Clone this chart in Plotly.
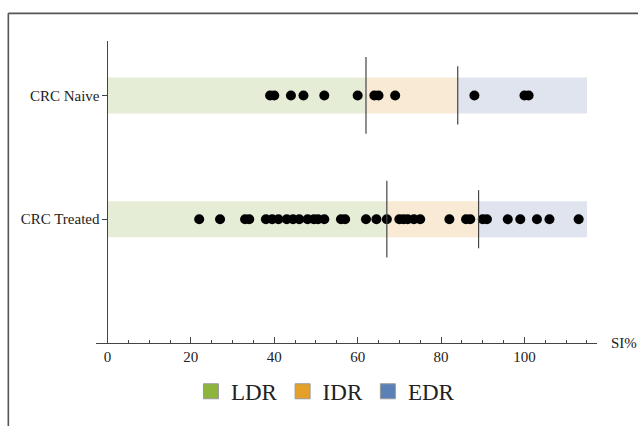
import plotly.graph_objects as go

# ---- data ----
groups = ["CRC Treated", "CRC Naive"]
group_pos = [1, 2]
naive_values = [39, 40, 44, 47, 52, 60, 64, 65, 69, 88, 100, 101]
treated_values = [22, 27, 33, 34, 38, 39.5, 41, 43, 44.5, 46, 48, 49.5, 50.5, 52,
                  56, 57, 62, 64.5, 67, 70, 71, 72, 73.5, 75, 82, 86, 87, 90, 91,
                  96, 99, 103, 106, 113]
naive_thresholds = [62, 84]
treated_thresholds = [67, 89]
band_end = 115
x_ticks = [0, 20, 40, 60, 80, 100]
region_names = ["LDR", "IDR", "EDR"]
region_colors = ["#8db43c", "#e5a02a", "#5b80b8"]
band_colors = ["#e6edd6", "#f8ead5", "#dfe4ef"]

SERIF = "Liberation Serif, Times New Roman, serif"

fig = go.Figure()

shapes = []
band_half = 0.145
for pos, thr in zip(group_pos, [treated_thresholds, naive_thresholds]):
    edges = [0, thr[0], thr[1], band_end]
    for i in range(3):
        shapes.append(dict(type="rect", xref="x", yref="y",
                           x0=edges[i], x1=edges[i + 1],
                           y0=pos - band_half, y1=pos + band_half,
                           fillcolor=band_colors[i], line=dict(width=0),
                           layer="below"))
    # threshold lines
    for t, h in zip(thr, [0.31, 0.235]):
        shapes.append(dict(type="line", xref="x", yref="y",
                           x0=t, x1=t, y0=pos - h, y1=pos + h,
                           line=dict(color="#444444", width=1.2),
                           layer="above"))

# decorative frame (top and left)
shapes.append(dict(type="line", xref="paper", yref="paper",
                   x0=-0.175, x1=1.1, y0=1.0915, y1=1.0915,
                   line=dict(color="#555555", width=1.6)))
shapes.append(dict(type="line", xref="paper", yref="paper",
                   x0=-0.175, x1=-0.175, y0=1.0915, y1=-0.3,
                   line=dict(color="#555555", width=1.6)))

fig.add_trace(go.Scatter(x=treated_values, y=[group_pos[0]] * len(treated_values),
                         mode="markers", marker=dict(color="black", size=10),
                         showlegend=False, hoverinfo="x"))
fig.add_trace(go.Scatter(x=naive_values, y=[group_pos[1]] * len(naive_values),
                         mode="markers", marker=dict(color="black", size=10),
                         showlegend=False, hoverinfo="x"))

for name, col in zip(region_names, region_colors):
    fig.add_trace(go.Scatter(x=[None], y=[None], mode="markers", name=name,
                             marker=dict(symbol="square", size=15, color=col,
                                         line=dict(color="#999999", width=1))))

fig.update_layout(
    width=638, height=426,
    margin=dict(l=95.5, r=41.3, t=40.7, b=82.5),
    paper_bgcolor="white", plot_bgcolor="white",
    shapes=shapes,
    font=dict(family=SERIF, color="#222222"),
    xaxis=dict(range=[-2.75, 117.4], showgrid=False, zeroline=False,
               showline=True, linecolor="#444444", linewidth=1,
               tickvals=x_ticks, ticks="inside", ticklen=6, tickcolor="#444444",
               tickfont=dict(family=SERIF, size=15, color="#222222"),
               minor=dict(dtick=5, tick0=0, ticks="inside", ticklen=3.5,
                          tickcolor="#444444"),
               fixedrange=True),
    yaxis=dict(range=[0, 2.44], showgrid=False, zeroline=False,
               anchor="free", position=0.0229,
               showline=True, linecolor="#444444", linewidth=1,
               tickvals=group_pos, ticktext=groups,
               ticks="outside", ticklen=5, tickcolor="#444444",
               tickfont=dict(family=SERIF, size=15, color="#222222"),
               fixedrange=True),
    legend=dict(orientation="h", x=0.458, xanchor="center", y=-0.16,
                yanchor="middle", font=dict(family=SERIF, size=23, color="#222222"),
                bgcolor="rgba(0,0,0,0)", itemclick=False),
    annotations=[dict(text="SI%", xref="paper", yref="y", x=1, y=0,
                      xanchor="left", yanchor="middle", xshift=12,
                      showarrow=False,
                      font=dict(family=SERIF, size=15, color="#222222"))],
)

fig.write_html("out.html",
               config={"displayModeBar": False},
               post_script="document.body.style.margin='0';document.body.style.overflow='hidden';")
